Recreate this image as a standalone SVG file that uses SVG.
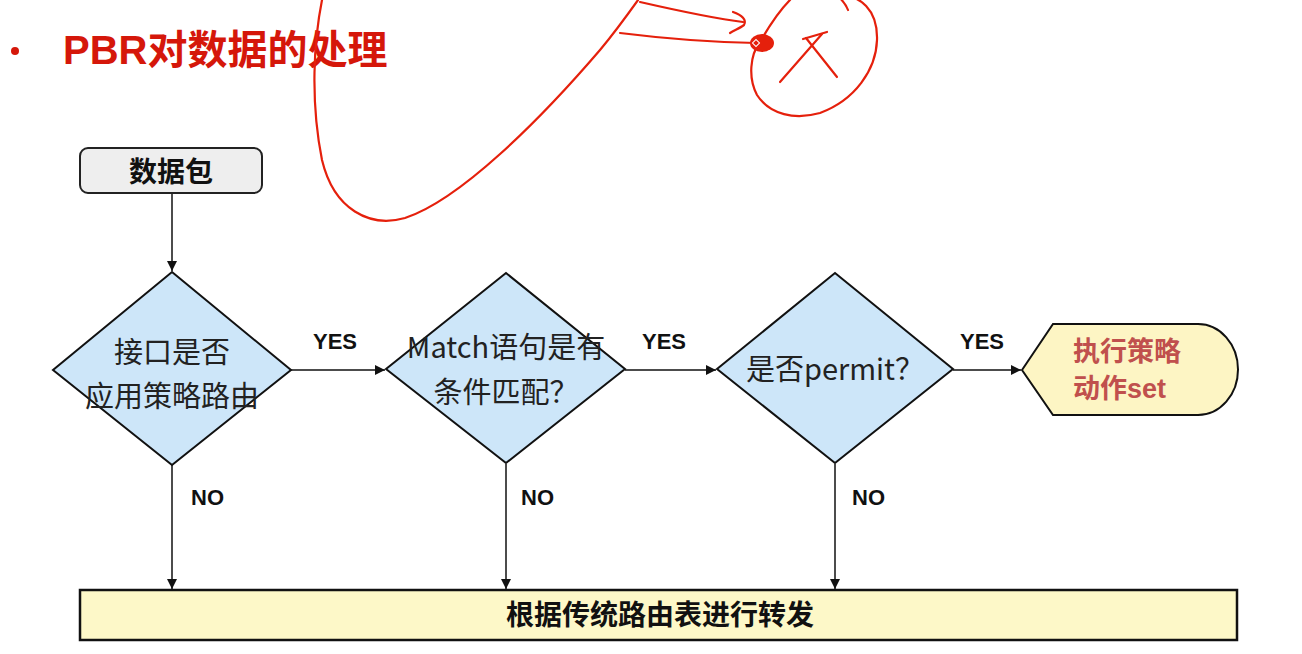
<svg xmlns="http://www.w3.org/2000/svg" width="1302" height="654" viewBox="0 0 1302 654">
<defs>
<marker id="arr" viewBox="0 0 10 10" refX="10" refY="5" markerWidth="10" markerHeight="10" markerUnits="userSpaceOnUse" orient="auto">
<path d="M0,0 L10,5 L0,10 z" fill="#111"/>
</marker>
<style>
.lbl{font-family:"Liberation Sans","Noto Sans CJK SC",sans-serif;font-weight:bold;font-size:22px;fill:#111;}
.dia{fill:#cde6f9;stroke:#111;stroke-width:2;}
.dtxt{font-family:"Noto Sans CJK SC",sans-serif;font-size:29px;fill:#222;text-anchor:middle;}
.btxt{font-family:"Noto Sans CJK SC",sans-serif;font-size:28px;font-weight:bold;fill:#111;text-anchor:middle;}
.atxt{font-family:"Noto Sans CJK SC",sans-serif;font-size:27px;font-weight:bold;fill:#c0504d;}
.conn{stroke:#111;stroke-width:1.5;fill:none;marker-end:url(#arr);}
.red{stroke:#e5200c;stroke-width:2.2;fill:none;stroke-linecap:round;stroke-linejoin:round;}
</style>
</defs>
<rect width="1302" height="654" fill="#ffffff"/>

<g id="title">
<circle cx="15" cy="51" r="4" fill="#d5170a"/>
<text x="63" y="64" font-family="Liberation Sans,'Noto Sans CJK SC',sans-serif" font-weight="bold" font-size="40" fill="#d5170a">PBR<tspan font-family="'Noto Sans CJK SC',sans-serif">对数据的处理</tspan></text>
</g>

<g id="connectors">
<line class="conn" x1="172" y1="194" x2="172" y2="271"/>
<line class="conn" x1="291" y1="370" x2="385" y2="370"/>
<line class="conn" x1="625" y1="370" x2="716" y2="370"/>
<line class="conn" x1="953" y1="370" x2="1021" y2="370"/>
<line class="conn" x1="172" y1="465" x2="172" y2="589"/>
<line class="conn" x1="506" y1="464" x2="506" y2="589"/>
<line class="conn" x1="835" y1="464" x2="835" y2="589"/>
<text class="lbl" x="335" y="349" text-anchor="middle">YES</text>
<text class="lbl" x="664" y="349" text-anchor="middle">YES</text>
<text class="lbl" x="982" y="349" text-anchor="middle">YES</text>
<text class="lbl" x="191" y="505">NO</text>
<text class="lbl" x="521" y="505">NO</text>
<text class="lbl" x="852" y="505">NO</text>
</g>

<g id="packet">
<rect x="80" y="148" width="182" height="45" rx="8" fill="#eeeeee" stroke="#222" stroke-width="2"/>
<text class="btxt" x="171" y="182">数据包</text>
</g>

<g id="decision1">
<polygon class="dia" points="172,272 291,370 172,465 53,370"/>
<text class="dtxt" x="172" y="363">接口是否</text>
<text class="dtxt" x="172" y="407">应用策略路由</text>
</g>

<g id="decision2">
<polygon class="dia" points="506,273 625,369 506,463 386,369"/>
<text class="dtxt" x="506" y="358">Match语句是有</text>
<text class="dtxt" x="506" y="403">条件匹配？</text>
</g>

<g id="decision3">
<polygon class="dia" points="835,273 953,369 835,463 717,369"/>
<text class="dtxt" x="835" y="380">是否permit？</text>
</g>

<g id="action">
<path d="M1022,370 L1053,324 L1198,324 A40,45.5 0 0 1 1198,415 L1053,415 Z" fill="#fdf5c4" stroke="#111" stroke-width="2"/>
<text class="atxt" x="1073" y="361">执行策略</text>
<text class="atxt" x="1073" y="398">动作<tspan font-family="Liberation Sans,sans-serif">set</tspan></text>
</g>

<g id="forward">
<rect x="80" y="590" width="1157" height="50" fill="#fdf8c8" stroke="#111" stroke-width="2.5"/>
<text class="btxt" x="660" y="625">根据传统路由表进行转发</text>
</g>

<g id="annotation">
<path class="red" d="M322,0 C314,40 310,100 322,160 C334,210 370,228 405,218 C460,200 540,120 600,50 C615,32 628,14 638,0"/>
<path class="red" d="M620,33 C660,38 700,42 756,43"/>
<path class="red" d="M640,2 C675,10 710,18 743,22"/>
<path class="red" d="M733,12 C742,15 747,20 744,25 C740,28 735,30 730,33"/>
<path class="red" d="M848,10 C846,4 842,0 838,-4 C860,-6 878,10 877,40 C876,70 855,100 820,113 C795,120 770,115 757,95 C748,78 750,55 760,42 C768,28 778,12 790,0"/>
<ellipse cx="762" cy="43" rx="12" ry="9" fill="#e5200c"/>
<rect x="753.5" y="40.5" width="5" height="5" fill="none" stroke="#ffffff" stroke-width="1" transform="rotate(45 756 43)"/>
<path class="red" d="M803,39 L827,32"/>
<path class="red" d="M780,82 L822,34"/>
<path class="red" d="M806,38 L837,77"/>
</g>
</svg>
